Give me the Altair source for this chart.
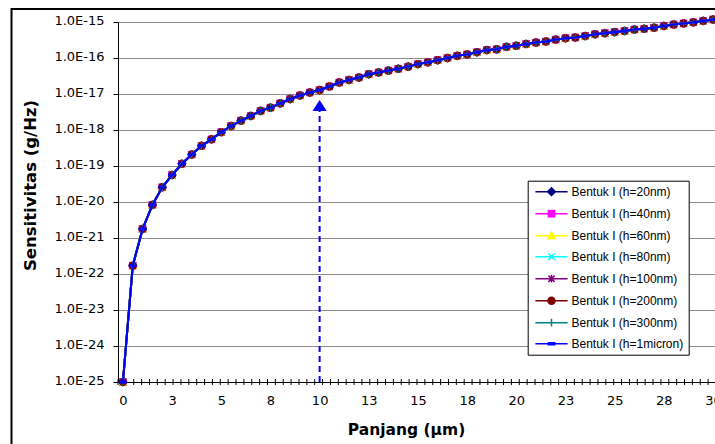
import altair as alt
import pandas as pd

# ---------------- data ----------------
lengths_um = [0, 0.5, 1, 1.5, 2, 2.5, 3, 3.5, 4, 4.5, 5, 5.5, 6, 6.5, 7, 7.5, 8, 8.5, 9, 9.5,
              10, 10.5, 11, 11.5, 12, 12.5, 13, 13.5, 14, 14.5, 15, 15.5, 16, 16.5, 17, 17.5,
              18, 18.5, 19, 19.5, 20, 20.5, 21, 21.5, 22, 22.5, 23, 23.5, 24, 24.5, 25, 25.5,
              26, 26.5, 27, 27.5, 28, 28.5, 29, 29.5, 30]

# sensitivity (g/Hz); the eight curves are indistinguishable in the picture
sens_bentuk1 = [1.00e-25, 1.70e-22, 1.78e-21, 8.32e-21, 2.57e-20, 5.62e-20, 1.15e-19, 2.09e-19,
                3.63e-19, 5.50e-19, 8.71e-19, 1.29e-18, 1.82e-18, 2.45e-18, 3.39e-18, 4.17e-18,
                5.50e-18, 7.24e-18, 9.12e-18, 1.10e-17, 1.29e-17, 1.62e-17, 2.09e-17, 2.45e-17,
                2.88e-17, 3.55e-17, 3.98e-17, 4.47e-17, 5.01e-17, 5.75e-17, 6.76e-17, 7.59e-17,
                8.71e-17, 1.00e-16, 1.15e-16, 1.26e-16, 1.45e-16, 1.66e-16, 1.74e-16, 2.04e-16,
                2.19e-16, 2.45e-16, 2.69e-16, 2.88e-16, 3.24e-16, 3.55e-16, 3.72e-16, 4.07e-16,
                4.57e-16, 4.90e-16, 5.25e-16, 5.62e-16, 6.17e-16, 6.46e-16, 6.92e-16, 7.76e-16,
                8.51e-16, 9.12e-16, 9.77e-16, 1.07e-15, 1.17e-15]

series_names = ["Bentuk I (h=20nm)", "Bentuk I (h=40nm)", "Bentuk I (h=60nm)",
                "Bentuk I (h=80nm)", "Bentuk I (h=100nm)", "Bentuk I (h=200nm)",
                "Bentuk I (h=300nm)", "Bentuk I (h=1micron)"]
series_values = [sens_bentuk1] * 8

# axis labels / ticks
x_label_values = [0, 2.5, 5, 7.5, 10, 12.5, 15, 17.5, 20, 22.5, 25, 27.5, 30]
x_tick_marks = [-0.25, 0.15, 0.55, 0.95, 1.35, 1.75, 2.15, 2.55, 2.95, 3.35, 3.75, 4.15, 4.55,
                4.95, 5.35, 5.75, 6.15, 6.55, 6.95, 7.35, 7.75, 8.15, 8.55, 8.95, 9.35, 9.75,
                10.15, 10.55, 10.95, 11.35, 11.75, 12.15, 12.55, 12.95, 13.35, 13.75, 14.15,
                14.55, 14.95, 15.35, 15.75, 16.15, 16.55, 16.95, 17.35, 17.75, 18.15, 18.55,
                18.95, 19.35, 19.75, 20.15, 20.55, 20.95, 21.35, 21.75, 22.15, 22.55, 22.95,
                23.35, 23.75, 24.15, 24.55, 24.95, 25.35, 25.75, 26.15, 26.55, 26.95, 27.35,
                27.75, 28.15, 28.55, 28.95, 29.35, 29.75]
y_tick_values = [1e-25, 1e-24, 1e-23, 1e-22, 1e-21, 1e-20, 1e-19, 1e-18, 1e-17, 1e-16, 1e-15]

# annotation arrow at L = 10 um
arrow_x = [10]
arrow_bottom = [1e-25]
arrow_top = [3.4e-18]
arrow_head = [4.8e-18]

# ---------------- styles ----------------
colors = ["#000080", "#FF00FF", "#FFFF00", "#00FFFF", "#800080", "#800000", "#008080", "#0000FF"]
marker_paths = [
    "M0,-1.1L1.1,0L0,1.1L-1.1,0Z",
    "M-0.9,-0.9H0.9V0.9H-0.9Z",
    "M0,-1.05L1,0.85L-1,0.85Z",
    "M-0.9,-0.9L0.9,0.9M-0.9,0.9L0.9,-0.9",
    "M-0.9,-0.9L0.9,0.9M-0.9,0.9L0.9,-0.9M0,-1.1V1.1",
    "M1,0A1,1,0,1,1,-1,0A1,1,0,1,1,1,0Z",
    "M-1.1,0H1.1M0,-1.1V1.1",
    "M-0.9,-0.3H0.9V0.3H-0.9Z",
]
legend_paths = ["M-4.6,0H4.6" + p for p in marker_paths]

rows = []
for name, vals in zip(series_names, series_values):
    for L, s in zip(lengths_um, vals):
        rows.append({"series": name, "length": L, "sens": s})
df = pd.DataFrame(rows)

x_scale = alt.Scale(domain=[-0.25, 30.1], nice=False, zero=False)
y_scale = alt.Scale(type="log", domain=[1e-25, 1e-15], nice=False)

x_axis = alt.Axis(values=x_label_values, labelExpr="round(datum.value)", ticks=False, tickSize=0,
                  grid=False, domainColor="black", domainWidth=1,
                  labelFont="DejaVu Sans", labelFontSize=13, labelColor="black",
                  labelPadding=12, labelFlush=False,
                  title="Panjang (µm)", titleFont="DejaVu Sans", titleFontWeight="bold",
                  titleFontSize=15.5, titleColor="black", titleX=288, titleY=52,
                  titleBaseline="alphabetic")
y_axis = alt.Axis(values=y_tick_values, labelExpr="'1.0E' + round(log(datum.value)/LN10)",
                  grid=True, gridColor="#8c8c8c", gridWidth=1,
                  ticks=True, tickSize=5, tickColor="black", domainColor="black", domainWidth=1,
                  labelFont="DejaVu Sans", labelFontSize=13, labelColor="black",
                  labelPadding=9, labelOffset=-2,
                  title="Sensitivitas (g/Hz)", titleFont="DejaVu Sans", titleFontWeight="bold",
                  titleFontSize=16.5, titleColor="black", titleX=-83, titleY=163,
                  titleBaseline="alphabetic")

base = alt.Chart(df)

border = alt.Chart(pd.DataFrame({"k": [0]})).mark_rect(
    fill="transparent", stroke="black", strokeWidth=2
).encode(x=alt.value(-106.5), x2=alt.value(700), y=alt.value(-13), y2=alt.value(500))

points = base.mark_point(filled=True, opacity=1, size=56, strokeWidth=1).encode(
    x=alt.X("length:Q", scale=x_scale, axis=x_axis),
    y=alt.Y("sens:Q", scale=y_scale, axis=y_axis),
    fill=alt.Fill("series:N", scale=alt.Scale(domain=series_names, range=colors), legend=None),
    stroke=alt.Stroke("series:N", scale=alt.Scale(domain=series_names, range=colors), legend=None),
    shape=alt.Shape("series:N", scale=alt.Scale(domain=series_names, range=marker_paths), legend=None),
)

lines = base.mark_line(strokeWidth=2).encode(
    x="length:Q",
    y="sens:Q",
    color=alt.Color("series:N", scale=alt.Scale(domain=series_names, range=colors), legend=None),
)

leg = alt.Legend(title=None, orient="none", legendX=409.7, legendY=158.7, padding=5,
                 strokeColor="black", fillColor="white", cornerRadius=0,
                 labelFont="Liberation Sans", labelFontSize=12, labelColor="black",
                 labelLimit=300, symbolSize=49, symbolStrokeWidth=1.5, symbolOffset=12.8,
                 labelOffset=14, rowPadding=8.0, symbolOpacity=1)

legend_layer = base.transform_calculate(label="datum.series").transform_filter("false").mark_point(
    filled=True, size=49
).encode(
    x="length:Q",
    y="sens:Q",
    fill=alt.Fill("label:N", scale=alt.Scale(domain=series_names, range=colors), legend=leg),
    stroke=alt.Stroke("label:N", scale=alt.Scale(domain=series_names, range=colors), legend=leg),
    shape=alt.Shape("label:N", scale=alt.Scale(domain=series_names, range=legend_paths), legend=leg),
)

ticks_df = pd.DataFrame({"t": x_tick_marks})
xticks = alt.Chart(ticks_df).mark_tick(orient="vertical", size=6, thickness=1, color="black", opacity=1).encode(
    x="t:Q", y=alt.datum(1e-25)
)

arrow_df = pd.DataFrame({"x": arrow_x, "y0": arrow_bottom, "y1": arrow_top, "yh": arrow_head})
arrow_line = alt.Chart(arrow_df).mark_rule(color="#0000FF", strokeWidth=2, strokeDash=[6, 4]).encode(
    x="x:Q", y="y0:Q", y2="y1:Q"
)
arrow_tip = alt.Chart(arrow_df).mark_point(
    shape="M0,-0.77L1,0.77L-1,0.77Z", filled=True, color="#0000FF", size=204, opacity=1
).encode(x="x:Q", y="yh:Q")

chart = alt.layer(border, xticks, arrow_line, arrow_tip, points, lines, legend_layer).resolve_scale(
    fill="independent", stroke="independent", shape="independent"
).properties(
    width=597, height=360,
    padding={"left": 118, "top": 22, "right": 0, "bottom": 62},
    autosize=alt.AutoSizeParams(type="none"),
    background="white",
).configure_view(strokeWidth=0)

chart.save("out.html", embed_options={"renderer": "svg", "actions": False})
